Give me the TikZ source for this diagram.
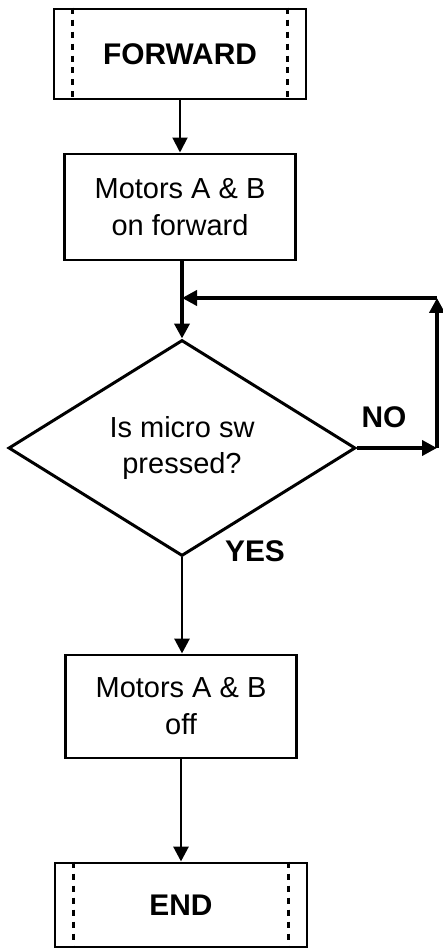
\documentclass[tikz,border=0pt]{standalone}
\usepackage{fontspec}
\setmainfont{Liberation Sans}
\usetikzlibrary{arrows.meta,shapes.geometric}

\tikzset{
  procbox/.style={draw,line width=1.7pt,minimum width=4.62cm,minimum height=2.1cm,align=center,inner sep=0pt},
  termbox/.style={draw,line width=1.7pt,minimum width=5.04cm,inner sep=0pt,font=\fontsize{17}{20}\selectfont\bfseries},
  decbox/.style={draw,diamond,line width=1.7pt,minimum width=6.94cm,minimum height=4.32cm,inner sep=0pt,align=center},
  answer/.style={font=\fontsize{17}{20}\selectfont\bfseries},
  sidedash/.style={line width=1.7pt,dash pattern=on 0.12cm off 0.12cm},
  flow/.style={-{Triangle[length=0.3cm,width=0.3cm]},line width=1.7pt},
}

\begin{document}
\begin{tikzpicture}[font=\fontsize{16.5}{21}\selectfont]
\useasboundingbox (0,0) rectangle (8.86,18.98);
% terminals
\node[termbox,minimum height=1.8cm] (forward) at (3.6,17.90) {FORWARD};
\node[termbox,minimum height=1.68cm] (endbox) at (3.62,0.88) {END};
\foreach \t in {forward,endbox}{
  \draw[sidedash] ([xshift=0.4cm]\t.north west) -- ([xshift=0.4cm]\t.south west);
  \draw[sidedash] ([xshift=-0.4cm]\t.north east) -- ([xshift=-0.4cm]\t.south east);
}
% steps
\node[procbox,minimum height=2.12cm] (motorson) at (3.6,14.84) {Motors A \& B\\on forward};
\node[decbox] (micro) at (3.64,10.02) {Is micro sw\\pressed?};
\node[procbox,minimum height=2.06cm] (motorsoff) at (3.62,4.85) {Motors A \& B\\off};
\node[answer] (nolabel) at (7.68,10.64) {NO};
\node[answer] (yeslabel) at (5.10,7.96) {YES};
% loop corners
\coordinate (noturn) at (8.74,10.02);
\coordinate (nobend) at (8.74,13.02);
\coordinate (nojoin) at (3.64,13.02);
% connectors
\draw[flow,line width=1.1pt] (forward) -- (motorson);
\draw[flow,line width=2.3pt] (motorson.south -| micro) -- (micro);
\draw[flow,line width=2.3pt] (micro.east) -- (noturn);
\draw[flow,line width=2.3pt] (noturn) -- (nobend);
\draw[flow,line width=2.3pt] (nobend) -- (nojoin);
\draw[flow] (micro) -- (micro |- motorsoff.north);
\draw[flow] (motorsoff) -- (endbox);
\end{tikzpicture}
\end{document}
